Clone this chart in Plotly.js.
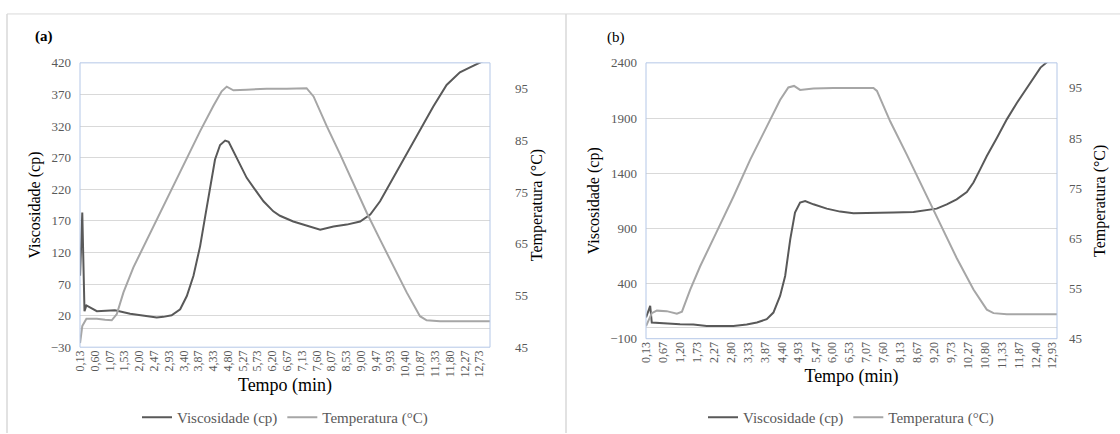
<!DOCTYPE html>
<html>
<head>
<meta charset="utf-8">
<script src="https://cdn.plot.ly/plotly-3.0.1.min.js"></script>
<style>
  html, body { margin: 0; padding: 0; background: #ffffff; }
  #chart { width: 1120px; height: 434px; }
</style>
</head>
<body>
<div id="chart"></div>
<script>
// ---------- Panel (a) ----------
const timeViscA = [0.13, 0.20, 0.27, 0.33, 0.66, 1.18, 1.23, 1.71, 2.23, 2.55, 2.76, 3.02, 3.29, 3.50, 3.71, 3.92, 4.08, 4.24, 4.39, 4.55, 4.71, 4.82, 4.97, 5.13, 5.39, 5.66, 5.92, 6.23, 6.44, 6.86, 7.28, 7.71, 8.13, 8.55, 8.97, 9.29, 9.60, 10.02, 10.44, 10.86, 11.28, 11.70, 12.12, 12.44, 12.76, 13.07];
const viscA     = [83, 183, 27, 36, 27, 28, 28.5, 23, 19, 17, 18, 20.5, 30, 51, 83, 130, 177, 225, 267, 290, 297, 295, 280, 262, 238, 219, 201, 185, 178, 169, 163, 156, 161, 164, 169, 180, 201, 238, 275, 314, 351, 385, 405, 413, 420, 428];

const timeTempA = [0.13, 0.20, 0.33, 0.66, 0.92, 1.13, 1.29, 1.50, 1.81, 2.24, 2.66, 3.08, 3.50, 3.92, 4.34, 4.60, 4.76, 4.97, 5.39, 6.02, 6.65, 7.28, 7.50, 7.92, 8.34, 8.76, 9.18, 9.60, 10.02, 10.44, 10.86, 11.07, 11.49, 12.12, 12.76, 13.07];
const tempA     = [45.8, 49.1, 50.5, 50.5, 50.3, 50.2, 51.4, 55.6, 60.4, 65.8, 71.0, 76.1, 81.3, 86.8, 91.7, 94.5, 95.4, 94.7, 94.8, 95.0, 95.0, 95.1, 93.5, 87.7, 82.3, 76.5, 71.0, 65.8, 60.7, 55.6, 51.0, 50.2, 50.0, 50.0, 50.0, 50.0];

const tickLabelsA = ['0,13','0,60','1,07','1,53','2,00','2,47','2,93','3,40','3,87','4,33','4,80','5,27','5,73','6,20','6,67','7,13','7,60','8,07','8,53','9,00','9,47','9,93','10,40','10,87','11,33','11,80','12,27','12,73'];
const viscTicksA = [-30, 20, 70, 120, 170, 220, 270, 320, 370, 420];

// ---------- Panel (b) ----------
const timeViscB = [0.13, 0.26, 0.31, 0.57, 1.20, 1.62, 2.04, 2.88, 3.30, 3.62, 3.93, 4.14, 4.35, 4.51, 4.67, 4.82, 4.98, 5.14, 5.40, 5.82, 6.24, 6.66, 7.29, 7.92, 8.55, 8.97, 9.28, 9.60, 9.91, 10.23, 10.44, 10.65, 10.86, 11.18, 11.49, 11.81, 12.12, 12.39, 12.55, 12.75, 13.07];
const viscB     = [92, 197, 47, 41, 31, 28, 16, 16, 28, 47, 77, 137, 288, 469, 801, 1043, 1134, 1148, 1118, 1079, 1052, 1037, 1037, 1043, 1049, 1064, 1079, 1118, 1163, 1230, 1315, 1435, 1556, 1722, 1888, 2039, 2175, 2296, 2357, 2405, 2480];

const timeTempB = [0.13, 0.31, 0.47, 0.78, 1.10, 1.26, 1.52, 1.83, 2.36, 2.88, 3.41, 3.93, 4.35, 4.61, 4.79, 4.98, 5.40, 6.03, 6.66, 7.29, 7.40, 7.82, 8.34, 8.87, 9.39, 9.91, 10.44, 10.86, 11.07, 11.49, 12.55, 13.07];
const tempB     = [47.5, 50.1, 50.6, 50.5, 50.0, 50.4, 54.8, 59.4, 66.4, 73.3, 80.7, 87.3, 92.6, 95.1, 95.4, 94.6, 94.9, 95.0, 95.0, 95.0, 94.4, 88.3, 81.7, 74.7, 67.7, 61.1, 54.8, 50.8, 50.1, 49.9, 49.9, 49.9];

const tickLabelsB = ['0,13','0,67','1,20','1,73','2,27','2,80','3,33','3,87','4,40','4,93','5,47','6,00','6,53','7,07','7,60','8,13','8,67','9,20','9,73','10,27','10,80','11,33','11,87','12,40','12,93'];
const viscTicksB = [-100, 400, 900, 1400, 1900, 2400];

const tempTicks = [45, 55, 65, 75, 85, 95];

const seriesNames = ['Viscosidade (cp)', 'Temperatura (°C)'];
const panelLabels = ['(a)', '(b)'];

// ---------- styling ----------
const FONT = '"Liberation Serif", serif';
const TXT = '#595959';
const DARK = '#595959';
const LIGHT = '#a6a6a6';
const GRID = '#d9d9d9';
const BORDER = '#b4c7e7';
const W = 1120, H = 434;
const toNum = s => parseFloat(s.replace(',', '.'));

const traces = [
  {x: timeViscA, y: viscA, xaxis: 'x', yaxis: 'y', name: seriesNames[0], mode: 'lines',
   line: {color: DARK, width: 2}, legend: 'legend'},
  {x: timeTempA, y: tempA, xaxis: 'x', yaxis: 'y2', name: seriesNames[1], mode: 'lines',
   line: {color: LIGHT, width: 2}, legend: 'legend'},
  {x: timeViscB, y: viscB, xaxis: 'x2', yaxis: 'y3', name: seriesNames[0], mode: 'lines',
   line: {color: DARK, width: 2}, legend: 'legend2'},
  {x: timeTempB, y: tempB, xaxis: 'x2', yaxis: 'y4', name: seriesNames[1], mode: 'lines',
   line: {color: LIGHT, width: 2}, legend: 'legend2'}
];

const tickFont = {family: FONT, size: 13, color: TXT};
const xTickFont = {family: FONT, size: 12, color: TXT};
const titleFont = {family: FONT, size: 16, color: '#000000'};

function xAxis(domain, anchor, labels) {
  return {
    domain: domain, anchor: anchor, range: [0.128, 13.07],
    tickmode: 'array', tickvals: labels.map(toNum), ticktext: labels,
    tickangle: -90, tickfont: xTickFont, ticks: '', showgrid: false, zeroline: false,
    showline: false, automargin: false,
    title: {text: 'Tempo (min)', font: {family: FONT, size: 18, color: '#000000'}, standoff: 1}
  };
}
function yLeft(domain, anchor, range, ticks, standoff) {
  return {
    domain: domain, anchor: anchor, range: range,
    tickmode: 'array', tickvals: ticks, tickfont: tickFont, ticks: '',
    showgrid: true, gridcolor: GRID, gridwidth: 1,
    zeroline: true, zerolinecolor: GRID, zerolinewidth: 1,
    showline: false, automargin: false, ticklabelstandoff: 8,
    title: {text: seriesNames[0], font: titleFont, standoff: standoff}
  };
}
function yRight(overlay, anchor, tickStandoff, standoff) {
  return {
    overlaying: overlay, anchor: anchor, side: 'right', range: [45, 100],
    tickmode: 'array', tickvals: tempTicks, tickfont: tickFont, ticks: '',
    showgrid: false, zeroline: false, showline: false, automargin: false,
    ticklabelstandoff: tickStandoff,
    title: {text: seriesNames[1], font: titleFont, standoff: standoff}
  };
}

const dA = [80 / W, 490 / W], dB = [646 / W, 1057 / W];
const yA = [(H - 348) / H, (H - 63) / H], yB = [(H - 339.5) / H, (H - 63) / H];

const layout = {
  width: W, height: H,
  margin: {l: 0, r: 0, t: 0, b: 0},
  paper_bgcolor: '#ffffff', plot_bgcolor: '#ffffff',
  font: {family: FONT, color: TXT},
  xaxis: xAxis(dA, 'y', tickLabelsA),
  yaxis: yLeft(yA, 'x', [-30, 420], viscTicksA, 6),
  yaxis2: yRight('y', 'x', 24, 1),
  xaxis2: xAxis(dB, 'y3', tickLabelsB),
  yaxis3: yLeft(yB, 'x2', [-100, 2400], viscTicksB, 6),
  yaxis4: yRight('y3', 'x2', 11, 12),
  showlegend: true,
  legend: {orientation: 'h', x: 285 / W, xanchor: 'center', y: (H - 418) / H, yanchor: 'middle',
           font: {family: FONT, size: 15, color: TXT}, bgcolor: 'rgba(0,0,0,0)'},
  legend2: {orientation: 'h', x: 851 / W, xanchor: 'center', y: (H - 418) / H, yanchor: 'middle',
            font: {family: FONT, size: 15, color: TXT}, bgcolor: 'rgba(0,0,0,0)'},
  annotations: [
    {text: '<b>' + panelLabels[0] + '</b>', xref: 'paper', yref: 'paper', x: 33 / W, y: (H - 37) / H,
     xanchor: 'left', yanchor: 'middle', showarrow: false, font: {family: FONT, size: 15, color: '#000000'}},
    {text: panelLabels[1], xref: 'paper', yref: 'paper', x: 605 / W, y: (H - 38) / H,
     xanchor: 'left', yanchor: 'middle', showarrow: false, font: {family: FONT, size: 15, color: '#000000'}}
  ],
  shapes: [
    {type: 'rect', xref: 'x domain', yref: 'y domain', x0: 0, x1: 1, y0: 0, y1: 1,
     line: {color: BORDER, width: 1}, layer: 'above'},
    {type: 'rect', xref: 'x2 domain', yref: 'y3 domain', x0: 0, x1: 1, y0: 0, y1: 1,
     line: {color: BORDER, width: 1}, layer: 'above'},
    {type: 'line', xref: 'paper', yref: 'paper', x0: 7 / W, x1: 7 / W, y0: 0, y1: (H - 14) / H,
     line: {color: GRID, width: 1.5}},
    {type: 'line', xref: 'paper', yref: 'paper', x0: 566 / W, x1: 566 / W, y0: 0, y1: (H - 14) / H,
     line: {color: GRID, width: 1.5}},
    {type: 'line', xref: 'paper', yref: 'paper', x0: 7 / W, x1: 1, y0: (H - 14) / H, y1: (H - 14) / H,
     line: {color: GRID, width: 1}}
  ]
};

Plotly.newPlot('chart', traces, layout, {displayModeBar: false, staticPlot: true});
</script>
</body>
</html>
